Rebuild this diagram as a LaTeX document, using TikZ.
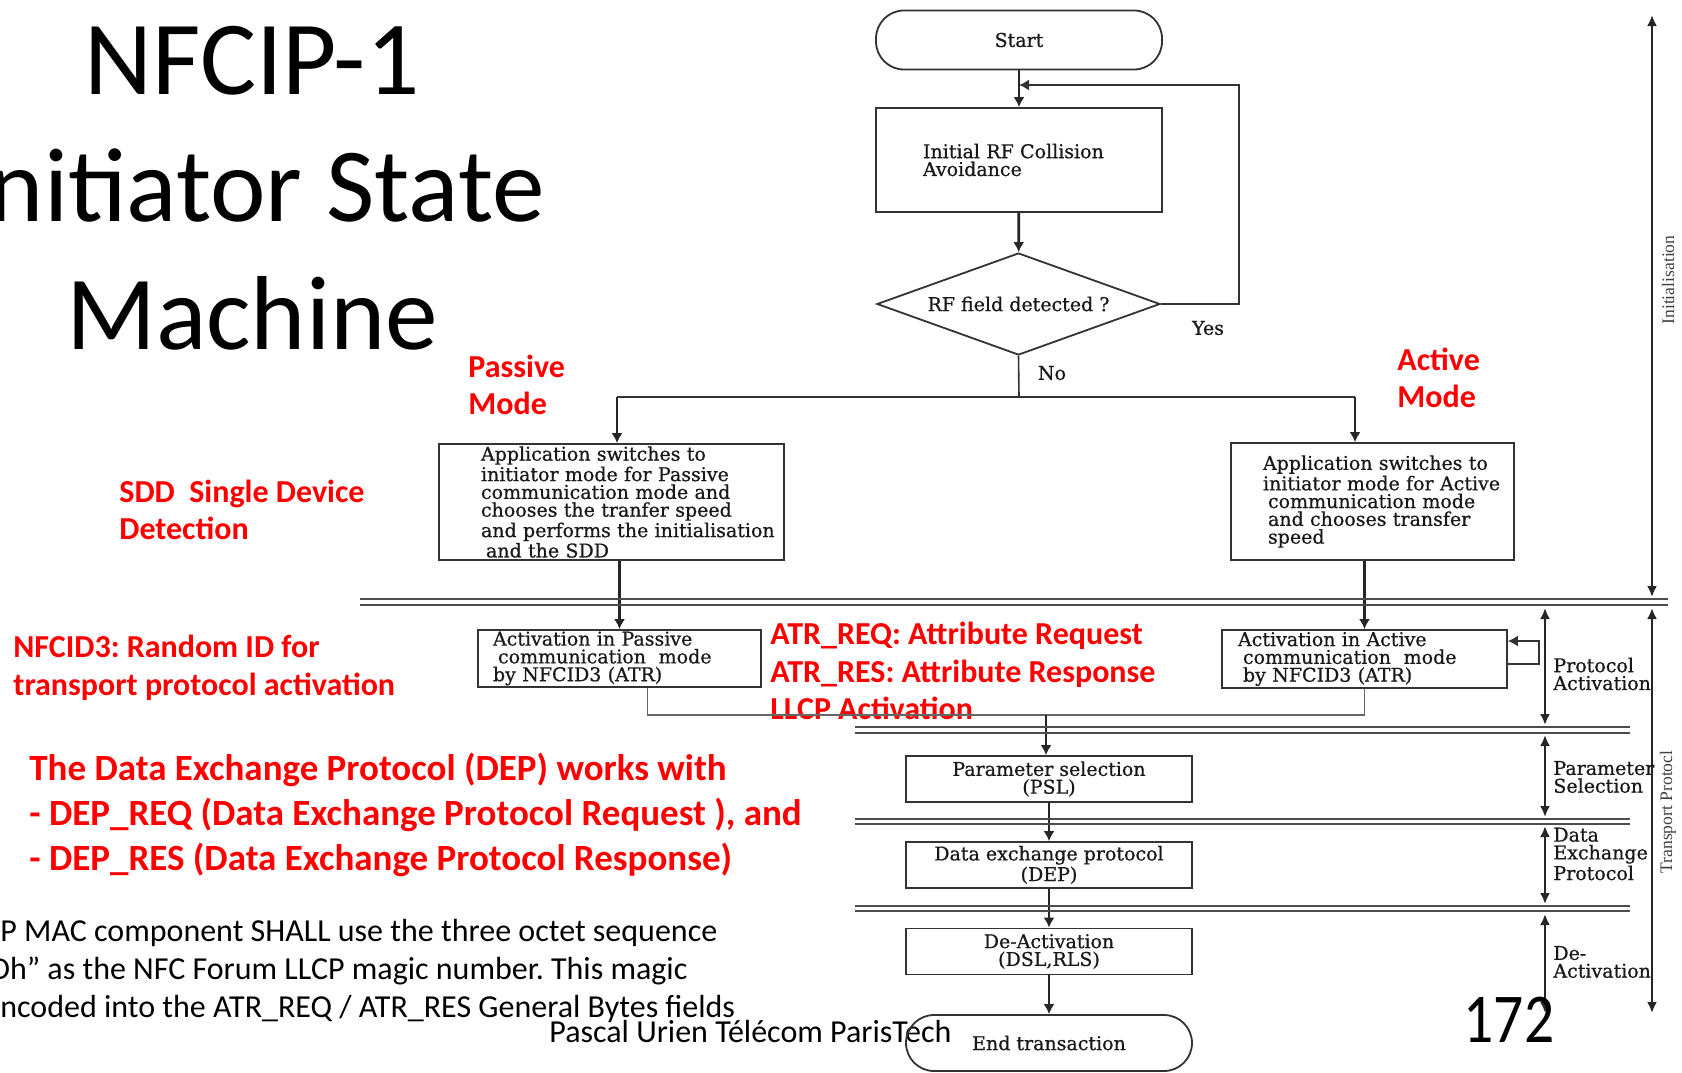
\documentclass[tikz,border=0pt]{standalone}
\usepackage{fontspec}
\newfontfamily\slidefont{Carlito}
\newfontfamily\chartfont[FakeBold=0.7]{DejaVu Serif}
\newfontfamily\sidefont{Liberation Serif}
\usetikzlibrary{positioning,arrows.meta,shapes.geometric,calc}
\frenchspacing
\tikzset{
  flowarrow/.style={-{Latex[length=5pt,width=5.5pt]}, line width=1.4pt, black!85},
  thinarrow/.style={-{Latex[length=5pt,width=5.5pt]}, line width=0.8pt, black!80},
  thinline/.style={line width=0.8pt, black!80},
  joinline/.style={line width=0.7pt, black!60},
  phasearrow/.style={{Latex[length=5.5pt,width=5pt]}-{Latex[length=5.5pt,width=5pt]}, line width=1.2pt, black!85},
  layerline/.style={line width=0.75pt, black!70},
  chartbox/.style={draw=black!80, line width=0.9pt, font=\chartfont\fontsize{9.5}{8.9}\selectfont, text=black!90, inner sep=0pt},
  termbox/.style={chartbox, rounded corners=14pt},
  decisionbox/.style={chartbox, diamond, aspect=2.8},
  charttext/.style={font=\chartfont\fontsize{9.5}{8.9}\selectfont, text=black!90, inner sep=0pt},
  phasetext/.style={charttext, align=left, anchor=west},
  sidetext/.style={font=\sidefont\fontsize{8.8}{10}\selectfont, text=black!75, rotate=90, inner sep=0pt},
  redlabel/.style={font=\slidefont\bfseries\fontsize{16}{18.75}\selectfont, text=red, align=left, anchor=west, inner sep=0pt},
  bigred/.style={font=\slidefont\bfseries\fontsize{18.5}{22.5}\selectfont, text=red, align=left, anchor=west, inner sep=0pt},
  titletext/.style={font=\slidefont\fontsize{52.6}{63}\selectfont, inner sep=0pt},
  slidetext/.style={font=\slidefont\fontsize{16}{19}\selectfont, inner sep=0pt, align=left, anchor=west}
}

\begin{document}
\begin{tikzpicture}[x=0.5pt, y=-0.5pt]
  \useasboundingbox (0,0) rectangle (1682,1072);
  \clip (0,0) rectangle (1682,1072);
  \fill[white] (0,0) rectangle (1682,1072);

  % slide title and notes
  \node[titletext, anchor=base] (title1) at (252,94) {NFCIP-1};
  \node[titletext, anchor=base east] (title2) at (545,221) {nitiator State};
  \node[titletext, anchor=base] (title3) at (252,349) {Machine};
  \node[redlabel] (passivelbl) at (468,385) {Passive\\Mode};
  \node[redlabel] (activelbl) at (1397,378) {Active\\Mode};
  \node[redlabel] (sddlbl) at (119,510) {SDD\ \ Single Device\\Detection};
  \node[redlabel] (nfcidlbl) at (13,668) {NFCID3: Random ID for\\transport protocol activation};
  \node[redlabel] (atrlbl) at (770,671) {ATR\_REQ: Attribute Request\\ATR\_RES: Attribute Response\\LLCP Activation};
  \node[bigred] (deplbl) at (29,815) {The Data Exchange Protocol (DEP) works with\\- DEP\_REQ (Data Exchange Protocol Request ), and\\- DEP\_RES (Data Exchange Protocol Response)};
  \node[slidetext] (llcpnote) at (0,971) {P MAC component SHALL use the three octet sequence\\\hspace*{-5pt}Dh” as the NFC Forum LLCP magic number. This magic\\ncoded into the ATR\_REQ / ATR\_RES General Bytes fields};
  \node[slidetext] (footer) at (549,1031) {Pascal Urien Télécom ParisTech};

  % flowchart
  \node[termbox, minimum width=143pt, minimum height=29.5pt] (start) at (1019,40) {Start};
  \node[chartbox, minimum width=143pt, minimum height=52pt, text width=96pt, align=left] (init) at (1019,160) {\mbox{Initial RF Collision}\\Avoidance};
  \node[decisionbox, minimum width=141.5pt, minimum height=51pt] (decide) at (1018.5,304) {RF field detected ?};
  \node[charttext] (yes) at (1208,328) {Yes};
  \node[charttext] (no) at (1052,373) {No};
  \node[chartbox, minimum width=172.5pt, minimum height=58pt, text width=130.5pt, align=left] (pasv) at (611.5,502) {\mbox{Application switches to}\\\mbox{initiator mode for Passive}\\\mbox{communication mode and}\\\mbox{chooses the tranfer speed}\\\mbox{and performs the initialisation}\\\hspace*{2.5pt}and the SDD};
  \node[chartbox, minimum width=141.5pt, minimum height=58.5pt, text width=109.5pt, align=left] (actv) at (1372.5,501.5) {\mbox{Application switches to}\\\mbox{initiator mode for Active}\\\hspace*{2.5pt}\mbox{communication mode}\\\hspace*{2.5pt}\mbox{and chooses transfer}\\\hspace*{2.5pt}speed};
  \node[chartbox, minimum width=141.5pt, minimum height=28.5pt, text width=126.5pt, align=left] (pasvact) at (619.5,658.5) {Activation in Passive\\\hspace*{2.5pt}communication\ \ mode\\by NFCID3 (ATR)};
  \node[chartbox, minimum width=142.5pt, minimum height=29pt, text width=126.5pt, align=left] (actvact) at (1364.5,659) {Activation in Active\\\hspace*{2.5pt}communication\ \ mode\\\hspace*{2.5pt}by NFCID3 (ATR)};
  \node[chartbox, minimum width=143pt, minimum height=23pt, align=center] (psl) at (1049,779) {Parameter selection\\(PSL)};
  \node[chartbox, minimum width=143pt, minimum height=23pt, align=center] (dep) at (1049,865) {Data exchange protocol\\(DEP)};
  \node[chartbox, minimum width=143pt, minimum height=23pt, align=center] (deact) at (1049,951.5) {De-Activation\\(DSL,RLS)};
  \node[termbox, minimum width=143pt, minimum height=28pt] (endt) at (1049,1043) {End transaction};

  % connectors
  \coordinate (loopin) at (1019,85);
  \draw[flowarrow] (start) -- (init);
  \draw[thinarrow] (decide.east) -- ++(78,0) |- (loopin);
  \draw[flowarrow] (init) -- (decide);
  \coordinate (split) at (1019,397);
  \coordinate (pleft) at (617,397);
  \coordinate (pright) at (1355,397);
  \draw[thinline] (decide.south) -- (split);
  \draw[thinline] (pleft) -- (pright);
  \draw[flowarrow] (pleft) -- (pleft |- pasv.north);
  \draw[flowarrow] (pright) -- (pright |- actv.north);
  \draw[flowarrow] (pasvact.north |- pasv.south) -- (pasvact.north);
  \draw[flowarrow] (actvact.north |- actv.south) -- (actvact.north);
  \draw[thinarrow] ([yshift=-2.5pt]actvact.east) -- ++(31,0) |- ([yshift=9pt]actvact.east);
  \coordinate (join) at (1046,715);
  \draw[joinline] ([xshift=14pt]pasvact.south) |- (join) -| (actvact.south);
  \draw[flowarrow] (join) -- (join |- psl.north);
  \draw[flowarrow] (psl) -- (dep);
  \draw[flowarrow] (dep) -- (deact);
  \draw[flowarrow] (deact) -- (endt);

  % layer separators
  \draw[layerline] (360,599) -- (1668,599);
  \draw[layerline] (360,605) -- (1668,605);
  \draw[layerline] (855,727) -- (1630,727);
  \draw[layerline] (855,733) -- (1630,733);
  \draw[layerline] (855,819) -- (1630,819);
  \draw[layerline] (855,824) -- (1630,824);
  \draw[layerline] (855,906) -- (1630,906);
  \draw[layerline] (855,911) -- (1630,911);

  % phases on the right
  \coordinate (initTop) at (1652,15);
  \coordinate (initBot) at (1652,597);
  \coordinate (tpTop) at (1652,608);
  \coordinate (tpBot) at (1652,1013);
  \coordinate (paTop) at (1545,608);
  \coordinate (paBot) at (1545,725);
  \coordinate (psTop) at (1545,735);
  \coordinate (psBot) at (1545,817);
  \coordinate (dxTop) at (1545,826);
  \coordinate (dxBot) at (1545,904);
  \coordinate (daTop) at (1545,914);
  \coordinate (daBot) at (1545,1013);
  \draw[phasearrow] (initTop) -- (initBot);
  \draw[phasearrow] (tpTop) -- (tpBot);
  \draw[phasearrow] (paTop) -- (paBot);
  \draw[phasearrow] (psTop) -- (psBot);
  \draw[phasearrow] (dxTop) -- (dxBot);
  \draw[phasearrow] (daTop) -- (daBot);
  \node[sidetext] (initlbl) at (1668,280) {Initialisation};
  \node[sidetext] (tplbl) at (1668,812) {Transport Protocl};
  \node[phasetext] (palbl) at (1553,674) {Protocol\\Activation};
  \node[phasetext] (pslbl) at (1553,777) {Parameter\\Selection};
  \node[phasetext] (dxlbl) at (1553,854) {Data\\Exchange\\Protocol};
  \node[phasetext] (dalbl) at (1553,962) {De-\\Activation};

  \node[slidetext, font=\slidefont\fontsize{35}{40}\selectfont, anchor=center] (pagenum) at (1509,1020) {\scalebox{0.85}[1]{172}};
\end{tikzpicture}
\end{document}
